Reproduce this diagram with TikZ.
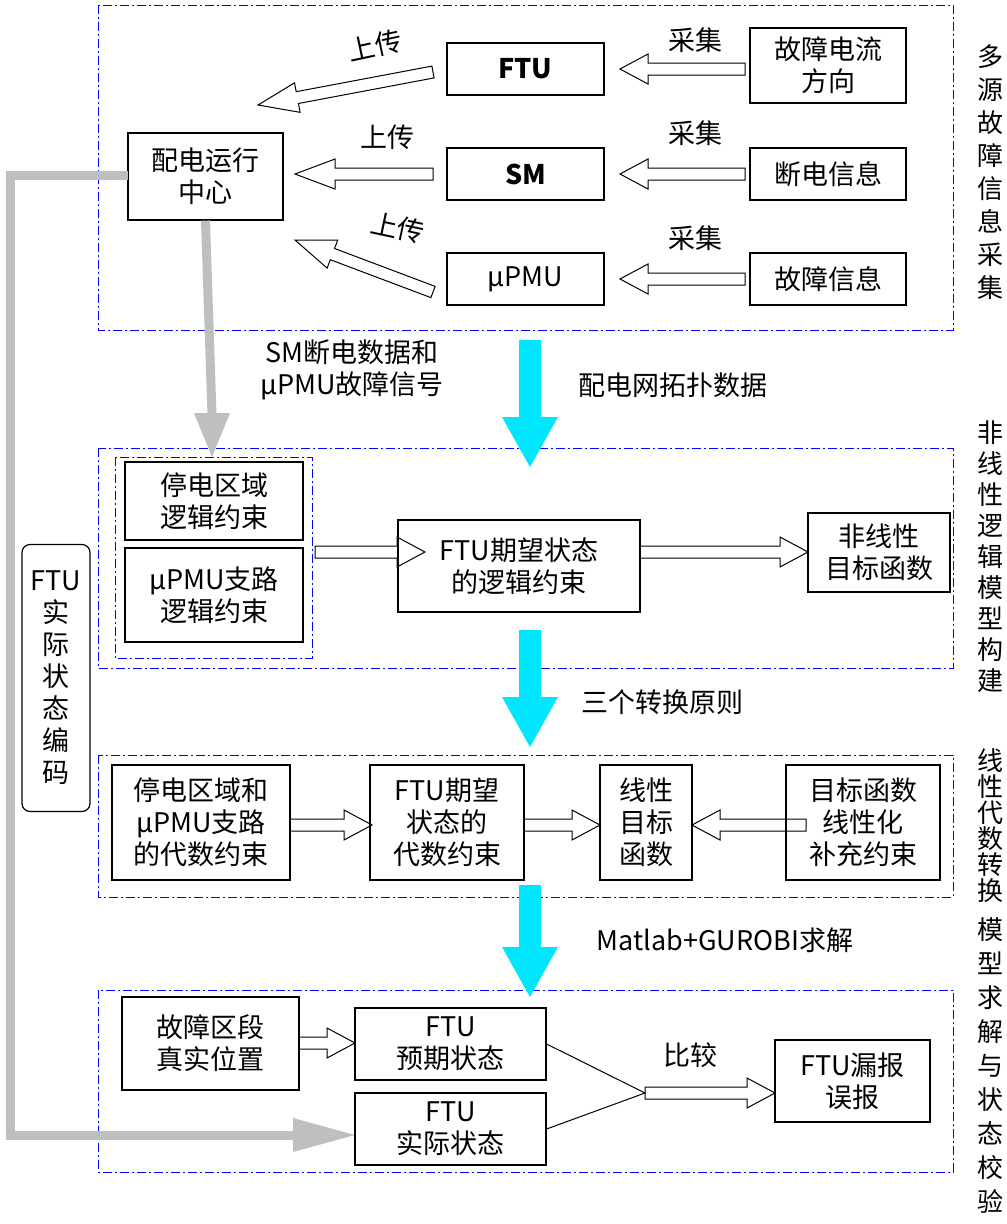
\documentclass[tikz,border=0pt]{standalone}
\usepackage{fontspec}
\setmainfont{Noto Sans CJK SC}
\definecolor{cy}{RGB}{0,230,255}
\begin{document}
\begin{tikzpicture}[x=1pt,y=1pt,
 every node/.style={font=\fontsize{27}{32}\selectfont,align=center,inner sep=1pt},
 bx/.style={draw,line width=1.2pt,minimum width=0pt},
 grp/.style={draw=blue,line width=1pt,dash pattern=on 9pt off 3pt on 2pt off 3pt},
 hol/.style={draw,line width=1pt,fill=white},
 lab/.style={font=\fontsize{26}{#1}\selectfont}]
\useasboundingbox (0,0) rectangle (1007,-1224);
\newcommand\harrow[7]{% x1 y1 x2 y2 shafthalf headhalf headlen
 \pgfmathsetmacro\ang{atan2(-(#4)+(#2),(#3)-(#1))}%
 \pgfmathsetmacro\len{veclen((#3)-(#1),(#4)-(#2))}%
 \path[shift={(#1,-#2)},rotate=\ang] (0,-#5)--(\len-#7,-#5)--(\len-#7,-#6)--(\len,0)--(\len-#7,#6)--(\len-#7,#5)--(0,#5)--cycle;}
\newcommand\mybox[6]{\node[bx,minimum width=#4-#2,minimum height=#5-#3] (#1) at ({(#2+#4)/2},{-(#3+#5)/2}) {#6};}
% groups
\draw[grp] (98,-5) rectangle (953,-330);
\draw[grp] (98,-448) rectangle (953,-668);
\draw[grp] (115,-457) rectangle (312,-658);
\draw[grp] (98,-755) rectangle (953,-897);
\draw[grp] (98,-990) rectangle (953,-1172);
% side labels
\node[lab=33] (s1) at (990,-172) {多\\源\\故\\障\\信\\息\\采\\集};
\node[lab=31] (s2) at (990,-557) {非\\线\\性\\逻\\辑\\模\\型\\构\\建};
\node[lab=26] (s3) at (990,-826) {线\\性\\代\\数\\转\\换};
\node[lab=34] (s4) at (990,-1065) {模\\型\\求\\解\\与\\状\\态\\校\\验};
% group1
\mybox{c}{128}{133}{283}{220}{配电运行\\中心}
\mybox{ftu}{447}{43}{604}{95}{\textbf{FTU}}
\mybox{sm}{447}{148}{604}{200}{\textbf{SM}}
\mybox{pmu}{447}{253}{604}{305}{μPMU}
\mybox{a1}{750}{28}{906}{103}{故障电流\\方向}
\mybox{a2}{750}{148}{906}{200}{断电信息}
\mybox{a3}{750}{253}{906}{305}{故障信息}
\begin{scope}[every path/.style={hol}]
\harrow{745}{69}{620}{69}{6}{15}{28}
\harrow{745}{174}{620}{174}{6}{15}{28}
\harrow{745}{279}{620}{279}{6}{15}{28}
\harrow{433}{72}{258}{105}{6}{15}{40}
\harrow{433}{174}{295}{174}{6}{15}{40}
\harrow{433}{292}{295}{240}{6}{15}{40}
\harrow{315}{552}{425}{552}{6}{15}{28}
\harrow{640}{552}{808}{552}{6}{15}{28}
\harrow{290}{825}{372}{825}{6}{15}{28}
\harrow{524}{825}{600}{825}{6}{15}{28}
\harrow{806}{825}{692}{825}{6}{15}{28}
\harrow{299}{1043}{355}{1043}{6}{15}{28}
\harrow{645}{1093}{775}{1093}{6}{15}{28}
\end{scope}
\node (l1) at (695,-40) {采集};
\node (l2) at (695,-133) {采集};
\node (l3) at (695,-238) {采集};
\node[rotate=12] (u1) at (375,-46) {上传};
\node (u2) at (387,-137) {上传};
\node[rotate=-12] (u3) at (398,-228) {上传};
% gray
\draw[gray!50,line width=9pt] (c.south) -- (212,-415);
\fill[gray!50] (194,-413)--(230,-413)--(212,-457)--cycle;
\draw[gray!50,line width=9pt] (128,-175) -- (10,-175) -- (10,-1135) -- (295,-1135);
\fill[gray!50] (293,-1118)--(293,-1152)--(355,-1135)--cycle;
\node (g) at (352,-370) {SM断电数据和\\μPMU故障信号};
% cyan
\begin{scope}[every path/.style={fill=cy}]
\harrow{530}{340}{530}{467}{11}{28}{50}
\harrow{530}{630}{530}{747}{11}{28}{50}
\harrow{530}{885}{530}{997}{11}{28}{50}
\end{scope}
\node (t1) at (673,-385) {配电网拓扑数据};
\node (t2) at (662,-702) {三个转换原则};
\node (t3) at (725,-940) {Matlab+GUROBI求解};
\node[draw,line width=1.2pt,rounded corners=8pt,minimum width=68pt,minimum height=267pt] (enc) at (56,-678) {FTU\\实\\际\\状\\态\\编\\码};
% group2
\mybox{b1}{125}{462}{303}{540}{停电区域\\逻辑约束}
\mybox{b2}{125}{548}{303}{642}{μPMU支路\\逻辑约束}
\mybox{b3}{398}{520}{640}{612}{FTU期望状态\\的逻辑约束}
\mybox{b4}{808}{513}{950}{592}{非线性\\目标函数}
% group3
\mybox{d1}{112}{765}{290}{880}{停电区域和\\μPMU支路\\的代数约束}
\mybox{d2}{370}{765}{524}{880}{FTU期望\\状态的\\代数约束}
\mybox{d3}{600}{765}{692}{880}{线性\\目标\\函数}
\mybox{d4}{786}{765}{940}{880}{目标函数\\线性化\\补充约束}
% group4
\mybox{e1}{122}{997}{299}{1090}{故障区段\\真实位置}
\mybox{e2}{355}{1008}{546}{1080}{FTU\\预期状态}
\mybox{e3}{355}{1093}{546}{1165}{FTU\\实际状态}
\mybox{e4}{775}{1040}{930}{1122}{FTU漏报\\误报}
\coordinate (m) at (645,-1093);
\draw[line width=1pt] (e2.east) -- (m) -- (e3.east);
\node (cmp) at (690,-1055) {比较};
\end{tikzpicture}
\end{document}
